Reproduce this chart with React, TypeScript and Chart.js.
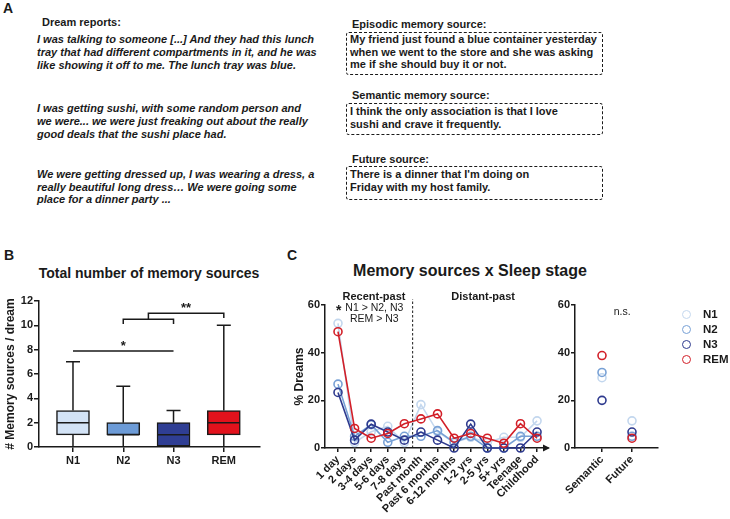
import React, { useEffect, useRef } from 'react';
import { Chart, registerables } from 'chart.js';
Chart.register(...registerables);

const FONT = '"Liberation Sans", Arial, Helvetica, sans-serif';
const INK = '#1a1a1a';

// ---------- Panel B data ----------
const BOX_CATEGORIES = ['N1', 'N2', 'N3', 'REM'];
const BOX_MIN = [0, 0, 0, 0];
const BOX_Q1 = [1, 1, 0, 1];
const BOX_MEDIAN = [2, 1, 1, 2];
const BOX_Q3 = [3, 2, 2, 3];
const BOX_MAX = [7, 5, 3, 10];
const BOX_Y_TICKS = [0, 2, 4, 6, 8, 10, 12];

// ---------- Panel C data ----------
const STAGES = ['N1', 'N2', 'N3', 'REM'];
const TIME_CATEGORIES = ['1 day', '2 days', '3-4 days', '5-6 days', '7-8 days', 'Past month', 'Past 6 months', '6-12 months', '1-2 yrs', '2-5 yrs', '5+ yrs', 'Teenage', 'Childhood'];
const N1_TIME = [52.3, 2.3, 6.8, 9.1, 2.3, 18.2, 6.8, 2.3, 4.5, 2.3, 4.5, 4.5, 11.4];
const N2_TIME = [26.8, 4.9, 9.8, 2.4, 4.9, 4.9, 7.3, 2.4, 4.9, 0, 0, 4.9, 4.9];
const N3_TIME = [23.3, 3.3, 10.0, 6.7, 3.3, 6.7, 3.3, 0, 10.0, 0, 0, 0, 6.7];
const REM_TIME = [48.8, 8.2, 4.1, 6.1, 10.2, 12.2, 14.3, 4.1, 6.1, 4.1, 2.0, 10.2, 4.1];
const SOURCE_CATEGORIES = ['Semantic', 'Future'];
const N1_SOURCE = [29.5, 11.4];
const N2_SOURCE = [31.7, 4.9];
const N3_SOURCE = [20.0, 6.7];
const REM_SOURCE = [38.8, 4.1];
const PCT_TICKS = [0, 20, 40, 60];

// styles
const BOX_FILLS = ['#d3e3f6', '#6c9bd7', '#2f3e94', '#e2121c'];
const STAGE_COLORS = ['#c3d7ee', '#77a0d5', '#2e3a8e', '#d21f28'];

const tickFont = { family: FONT, size: 11, weight: 'bold' as const };

const axisGrid = (len: number) => ({ drawOnChartArea: false, drawTicks: true, tickLength: len, color: INK, lineWidth: 1.5, offset: false });
const axisBorder = { display: true, color: INK, width: 1.5 };

function text(ctx: CanvasRenderingContext2D, s: string, x: number, y: number, font: string, align: CanvasTextAlign = 'center') {
  ctx.save();
  ctx.font = font;
  ctx.fillStyle = INK;
  ctx.textAlign = align;
  ctx.textBaseline = 'alphabetic';
  ctx.fillText(s, x, y);
  ctx.restore();
}

// ---------- Panel B chart ----------
const boxPlugin = {
  id: 'boxExtras',
  beforeDatasetsDraw(chart: any) {
    const { ctx, scales: { x, y } } = chart;
    ctx.save();
    ctx.strokeStyle = INK;
    ctx.lineWidth = 1.5;
    BOX_CATEGORIES.forEach((_, i) => {
      const px = x.getPixelForValue(i);
      ctx.beginPath();
      ctx.moveTo(px, y.getPixelForValue(BOX_MIN[i]));
      ctx.lineTo(px, y.getPixelForValue(BOX_Q1[i]));
      ctx.moveTo(px, y.getPixelForValue(BOX_Q3[i]));
      ctx.lineTo(px, y.getPixelForValue(BOX_MAX[i]));
      ctx.moveTo(px - 7, y.getPixelForValue(BOX_MAX[i]));
      ctx.lineTo(px + 7, y.getPixelForValue(BOX_MAX[i]));
      ctx.stroke();
    });
    ctx.restore();
  },
  afterDatasetsDraw(chart: any) {
    const { ctx, scales: { x, y } } = chart;
    ctx.save();
    ctx.strokeStyle = INK;
    ctx.lineWidth = 1.5;
    BOX_CATEGORIES.forEach((_, i) => {
      const px = x.getPixelForValue(i);
      const py = y.getPixelForValue(BOX_MEDIAN[i]);
      ctx.beginPath();
      ctx.moveTo(px - 16, py);
      ctx.lineTo(px + 16, py);
      ctx.stroke();
    });
    const X = (v: number) => x.getPixelForValue(v);
    const Y = (v: number) => y.getPixelForValue(v);
    ctx.beginPath();
    // N1 vs N3
    ctx.moveTo(X(0), Y(7.9)); ctx.lineTo(X(2), Y(7.9));
    // N2-N3 bracket
    ctx.moveTo(X(1), Y(10.1)); ctx.lineTo(X(1), Y(10.5)); ctx.lineTo(X(2), Y(10.5)); ctx.lineTo(X(2), Y(10.1));
    // to REM
    ctx.moveTo(X(1.5), Y(10.5)); ctx.lineTo(X(1.5), Y(11.0)); ctx.lineTo(X(3), Y(11.0)); ctx.lineTo(X(3), Y(10.6));
    ctx.stroke();
    ctx.restore();
    text(ctx, '*', X(1), Y(7.9) - 1, `bold 13px ${FONT}`);
    text(ctx, '**', X(2.25), Y(11.0) - 1.5, `bold 13px ${FONT}`);
  },
};

function makeBoxChart(canvas: HTMLCanvasElement) {
  return new Chart(canvas, {
    type: 'bar',
    data: {
      datasets: [{
        data: BOX_CATEGORIES.map((_, i) => ({ x: i, y: [BOX_Q1[i], BOX_Q3[i]] })) as any,
        backgroundColor: BOX_FILLS,
        borderColor: INK,
        borderWidth: 1.5,
        borderSkipped: false,
        barThickness: 33,
      }],
    },
    options: {
      animation: false,
      responsive: false,
      devicePixelRatio: 1,
      layout: { padding: { top: 16, right: 30, bottom: 0, left: 0 } },
      plugins: { legend: { display: false }, tooltip: { enabled: false } },
      scales: {
        x: {
          type: 'linear', min: -0.676, max: 3.72, offset: false,
          afterBuildTicks: (s: any) => { s.ticks = BOX_CATEGORIES.map((_, i) => ({ value: i })); },
          ticks: { callback: (v: any) => BOX_CATEGORIES[v], font: tickFont, color: INK, padding: 2, maxRotation: 0, autoSkip: false },
          grid: axisGrid(5), border: axisBorder,
          afterFit: (s: any) => { s.height = 38; },
        },
        y: {
          min: 0, max: 12,
          afterBuildTicks: (s: any) => { s.ticks = BOX_Y_TICKS.map((v) => ({ value: v })); },
          ticks: { font: tickFont, color: INK, padding: 1 },
          grid: axisGrid(5), border: axisBorder,
          title: { display: true, text: '# Memory sources / dream', color: INK, font: { family: FONT, size: 12, weight: 'bold' }, padding: { top: 3, bottom: 0 } },
          afterFit: (s: any) => { s.width = 39; },
        },
      },
    } as any,
    plugins: [boxPlugin],
  });
}

// ---------- Panel C charts ----------
const timePlugin = {
  id: 'timeExtras',
  afterDraw(chart: any) {
    const { ctx, scales: { x, y }, chartArea } = chart;
    const X = (v: number) => x.getPixelForValue(v);
    const Y = (v: number) => y.getPixelForValue(v);
    ctx.save();
    ctx.strokeStyle = INK;
    ctx.lineWidth = 1;
    ctx.setLineDash([2.5, 2]);
    ctx.beginPath();
    ctx.moveTo(X(4.5), Y(0));
    ctx.lineTo(X(4.5), Y(62.5));
    ctx.stroke();
    ctx.setLineDash([]);
    // arrow head
    ctx.fillStyle = INK;
    const ay = chartArea.bottom;
    const ax = chartArea.right + 2;
    ctx.beginPath();
    ctx.moveTo(ax, ay);
    ctx.lineTo(ax - 7, ay - 3.5);
    ctx.lineTo(ax - 7, ay + 3.5);
    ctx.closePath();
    ctx.fill();
    ctx.restore();
    text(ctx, 'Recent-past', X(2.17), Y(61.9), `bold 11px ${FONT}`);
    text(ctx, 'Distant-past', X(8.75), Y(61.9), `bold 11px ${FONT}`);
    text(ctx, '*', X(0.05), Y(55.6), `bold 14px ${FONT}`);
    text(ctx, 'N1 > N2, N3', X(2.19), Y(57.6), `10.5px ${FONT}`);
    text(ctx, 'REM > N3', X(2.19), Y(52.8), `10.5px ${FONT}`);
  },
};

const sourcePlugin = {
  id: 'sourceExtras',
  afterDraw(chart: any) {
    const { ctx, scales: { x, y } } = chart;
    text(ctx, 'n.s.', x.getPixelForValue(0.67), y.getPixelForValue(56.0), `10.5px ${FONT}`);
  },
};

function stageDatasets(series: number[][], showLine: boolean) {
  const order = [3, 2, 1, 0];
  return series.map((vals, k) => ({
    label: STAGES[k],
    data: vals.map((v, i) => ({ x: i, y: v })),
    borderColor: STAGE_COLORS[k],
    pointBorderColor: STAGE_COLORS[k],
    pointBackgroundColor: 'rgba(255,255,255,0)',
    backgroundColor: 'rgba(255,255,255,0)',
    borderWidth: 1.6,
    pointRadius: 4,
    pointBorderWidth: 1.6,
    showLine,
    tension: 0,
    clip: false as any,
    order: order[k],
  }));
}

function pctY(width: number, titleText: string | null) {
  return {
    min: 0, max: 60,
    afterBuildTicks: (s: any) => { s.ticks = PCT_TICKS.map((v) => ({ value: v })); },
    ticks: { font: tickFont, color: INK, padding: 1 },
    grid: axisGrid(4), border: axisBorder,
    title: titleText ? { display: true, text: titleText, color: INK, font: { family: FONT, size: 12, weight: 'bold' }, padding: { top: 2, bottom: 0 } } : { display: false },
    afterFit: (s: any) => { s.width = width; },
  };
}

function catX(cats: string[], min: number, max: number) {
  return {
    type: 'linear', min, max, offset: false,
    afterBuildTicks: (s: any) => { s.ticks = cats.map((_, i) => ({ value: i })); },
    ticks: { callback: (v: any) => cats[v], font: tickFont, color: INK, padding: 1, minRotation: 45, maxRotation: 45, autoSkip: false },
    grid: axisGrid(4), border: axisBorder,
    afterFit: (s: any) => { s.height = 71; },
  };
}

function makeTimeChart(canvas: HTMLCanvasElement) {
  return new Chart(canvas, {
    type: 'line',
    data: { datasets: stageDatasets([N1_TIME, N2_TIME, N3_TIME, REM_TIME], true) as any },
    options: {
      animation: false, responsive: false, devicePixelRatio: 1,
      layout: { padding: { top: 20, right: 12, bottom: 0, left: 0 } },
      plugins: { legend: { display: false }, tooltip: { enabled: false } },
      scales: { x: catX(TIME_CATEGORIES, -0.784, 12.66), y: pctY(35, '% Dreams') },
    } as any,
    plugins: [timePlugin],
  });
}

function makeSourceChart(canvas: HTMLCanvasElement) {
  return new Chart(canvas, {
    type: 'line',
    data: { datasets: stageDatasets([N1_SOURCE, N2_SOURCE, N3_SOURCE, REM_SOURCE], false) as any },
    options: {
      animation: false, responsive: false, devicePixelRatio: 1,
      layout: { padding: { top: 20, right: 12, bottom: 0, left: 0 } },
      plugins: { legend: { display: false }, tooltip: { enabled: false } },
      scales: { x: catX(SOURCE_CATEGORIES, -0.9, 1.867), y: pctY(25, null) },
    } as any,
    plugins: [sourcePlugin],
  });
}

function ChartCanvas({ left, top, width, height, make }: { left: number; top: number; width: number; height: number; make: (c: HTMLCanvasElement) => Chart }) {
  const ref = useRef<HTMLCanvasElement>(null);
  useEffect(() => {
    const chart = make(ref.current!);
    return () => chart.destroy();
  }, []);
  return <canvas ref={ref} width={width} height={height} style={{ position: 'absolute', left, top, width, height }} />;
}

function T({ x, b, size, bold, italic, anchor, children }: { x: number; b: number; size: number; bold?: boolean; italic?: boolean; anchor?: 'start' | 'middle'; children: React.ReactNode }) {
  return (
    <div style={{
      position: 'absolute', left: x, top: b - 0.8465 * size, fontSize: size, lineHeight: `${size}px`,
      fontFamily: FONT, fontWeight: bold ? 700 : 400, fontStyle: italic ? 'italic' : 'normal',
      whiteSpace: 'pre', color: INK, transform: anchor === 'middle' ? 'translateX(-50%)' : undefined,
    }}>{children}</div>
  );
}

const DREAM_LINES: [number, string][] = [
  [43, 'I was talking to someone [...] And they had this lunch'],
  [56, 'tray that had different compartments in it, and he was'],
  [69, 'like showing it off to me. The lunch tray was blue.'],
  [112.5, 'I was getting sushi, with some random person and'],
  [125.5, 'we were... we were just freaking out about the really'],
  [138.5, 'good deals that the sushi place had.'],
  [178, 'We were getting dressed up, I was wearing a dress, a'],
  [191, 'really beautiful long dress… We were going some'],
  [203.5, 'place for a dinner party ...'],
];

const SOURCE_BOXES: { head: string; hb: number; top: number; bottom: number; lines: [number, string][] }[] = [
  { head: 'Episodic memory source:', hb: 28, top: 31.5, bottom: 74.5, lines: [[43.5, 'My friend just found a blue container yesterday'], [56, 'when we went to the store and she was asking'], [68.5, 'me if she should buy it or not.']] },
  { head: 'Semantic memory source:', hb: 99, top: 102.5, bottom: 134.5, lines: [[115, 'I think the only association is that I love'], [128.5, 'sushi and crave it frequently.']] },
  { head: 'Future source:', hb: 163, top: 166, bottom: 199.5, lines: [[178, "There is a dinner that I'm doing on"], [191.5, 'Friday with my host family.']] },
];

export default function App() {
  return (
    <div style={{ position: 'absolute', left: 0, top: 0, width: 730, height: 519, background: '#fff', overflow: 'hidden' }}>
      {/* Panel A */}
      <T x={3} b={13} size={14} bold>A</T>
      <T x={42} b={26.5} size={11} bold>Dream reports:</T>
      {DREAM_LINES.map(([b, s], i) => <T key={i} x={37} b={b} size={11} bold italic>{s}</T>)}
      {SOURCE_BOXES.map((bx, i) => (
        <React.Fragment key={i}>
          <T x={352} b={bx.hb} size={11} bold>{bx.head}</T>
          <div style={{ position: 'absolute', left: 346, top: bx.top, width: 603 - 346, height: bx.bottom - bx.top, border: `1.5px dashed ${INK}`, borderRadius: 3, boxSizing: 'border-box' }} />
          {bx.lines.map(([b, s], j) => <T key={j} x={350} b={b} size={11} bold>{s}</T>)}
        </React.Fragment>
      ))}

      {/* Panel B */}
      <T x={4} b={259.5} size={14} bold>B</T>
      <T x={149} b={278} size={14} bold anchor="middle">Total number of memory sources</T>
      <ChartCanvas left={0} top={285} width={290} height={200} make={makeBoxChart} />

      {/* Panel C */}
      <T x={287} b={259.5} size={14} bold>C</T>
      <T x={470} b={277} size={16} bold anchor="middle">Memory sources x Sleep stage</T>
      <ChartCanvas left={290} top={285} width={270} height={234} make={makeTimeChart} />
      <ChartCanvas left={550} top={285} width={120} height={234} make={makeSourceChart} />
      {STAGES.map((s, k) => (
        <React.Fragment key={s}>
          <div style={{ position: 'absolute', left: 686 - 4.5, top: 314.3 + k * 15 - 4.5, width: 9, height: 9, borderRadius: '50%', border: `1.6px solid ${STAGE_COLORS[k]}`, boxSizing: 'border-box' }} />
          <T x={703} b={318.5 + k * 15} size={11.5} bold>{s}</T>
        </React.Fragment>
      ))}
    </div>
  );
}
